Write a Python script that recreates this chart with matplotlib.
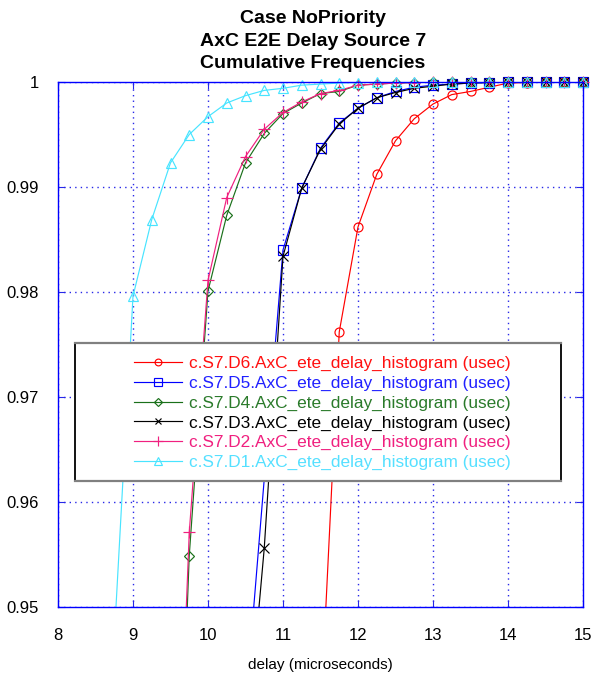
"""Cumulative delay frequencies for source 7, one curve per destination."""

import numpy as np
from matplotlib import pyplot as plt
from matplotlib.lines import Line2D
from matplotlib.patches import Rectangle

plt.rcParams["font.family"] = ["Liberation Sans", "DejaVu Sans"]

# delay bins (microseconds), 0.25 us steps
delay_us = [
    8.75, 9.0, 9.25, 9.5, 9.75, 10.0, 10.25, 10.5, 10.75, 11.0, 11.25, 11.5, 11.75,
    12.0, 12.25, 12.5, 12.75, 13.0, 13.25, 13.5, 13.75, 14.0, 14.25, 14.5, 14.75, 15.0,
]

nan = float("nan")
cdf_d6 = [
    nan, nan, nan, nan, nan, nan, nan, nan, nan, nan, nan, 0.9395, 0.9762,
    0.9862, 0.9912, 0.9944, 0.9965, 0.9979, 0.9988, 0.9991, 0.9995, 0.9999, 0.99995, 1.0, 1.0, 1.0,
]
cdf_d5 = [
    nan, nan, nan, nan, nan, nan, nan, 0.9404, nan, 0.9840, 0.9899, 0.9937, 0.9961,
    0.9975, 0.9985, 0.9991, 0.9995, 0.9997, 0.9998, 0.9999, 0.99995, 1.0, 1.0, 1.0, 1.0, 1.0,
]
cdf_d4 = [
    nan, nan, nan, 0.908, 0.9549, 0.9801, 0.9873, 0.9923, 0.9951, 0.9970, 0.9980, 0.9989, 0.9991,
    0.9997, 0.9998, 0.9999, 0.99995, 1.0, 1.0, 1.0, 1.0, 1.0, 1.0, 1.0, 1.0, 1.0,
]
cdf_d3 = [
    nan, nan, nan, nan, nan, nan, nan, 0.9356, 0.9556, 0.9834, 0.9899, 0.9936, 0.9960,
    0.9975, 0.9985, 0.9990, 0.9994, 0.9996, 0.9998, 0.9999, 0.99995, 1.0, 1.0, 1.0, 1.0, 1.0,
]
cdf_d2 = [
    nan, nan, nan, 0.912, 0.9571, 0.9811, 0.9890, 0.9929, 0.9955, 0.9971, 0.9981, 0.9989, 0.9992,
    0.9997, 0.9998, 0.9999, 0.99995, 1.0, 1.0, 1.0, 1.0, 1.0, 1.0, 1.0, 1.0, 1.0,
]
cdf_d1 = [
    0.947, 0.9796, 0.9869, 0.9923, 0.9950, 0.9967, 0.9980, 0.9987, 0.9992, 0.9994, 0.9997, 0.9998, 0.9999,
    0.99995, 1.0, 1.0, 1.0, 1.0, 1.0, 1.0, 1.0, 1.0, 1.0, 1.0, 1.0, 1.0,
]

series_labels = [f"c.S7.D{n}.AxC_ete_delay_histogram (usec)" for n in (6, 5, 4, 3, 2, 1)]
series_values = [cdf_d6, cdf_d5, cdf_d4, cdf_d3, cdf_d2, cdf_d1]
series_colors = ["#ff0000", "#0000ff", "#1a701a", "#000000", "#f0207f", "#48e4ff"]
text_colors = ["#ff1010", "#2020ff", "#2a7a2a", "#000000", "#f0207f", "#55e0ff"]
series_markers = [("o", 6.5), ("s", 7.5), ("D", 5.0), ("x", 6.5), ("+", 9), ("^", 7.5)]

x_ticks = [8, 9, 10, 11, 12, 13, 14, 15]
y_ticks = [0.95, 0.96, 0.97, 0.98, 0.99, 1.0]
y_tick_labels = ["0.95", "0.96", "0.97", "0.98", "0.99", "1"]

grid_blue = "#2828e8"
y_low, y_high = 0.95, 1.0

figure = plt.figure(figsize=(5.94, 6.74), dpi=100)
axis = figure.add_axes([58 / 594, 1 - 607 / 674, 525 / 594, 525 / 674])

x_all = np.array(delay_us)
for values, color, (marker, size) in zip(series_values, series_colors, series_markers):
    y_all = np.array(values)
    keep = np.isfinite(y_all)
    axis.plot(x_all[keep], y_all[keep], color=color, linewidth=0.85)
    # markers inside the range are drawn unclipped, so those on the top edge stay whole
    shown = keep & (y_all >= y_low)
    axis.plot(
        x_all[shown], y_all[shown], linestyle="none", clip_on=False,
        marker=marker, markersize=size, markerfacecolor="none",
        markeredgecolor=color, markeredgewidth=0.85,
    )

axis.set_xlim(8, 15)
axis.set_ylim(y_low, y_high)
axis.set_xticks(x_ticks)
axis.set_yticks(y_ticks)
axis.set_yticklabels(y_tick_labels)
axis.tick_params(
    direction="in", length=5, color=grid_blue, labelsize=12,
    top=True, right=True, pad=14,
)
axis.tick_params(axis="x", pad=15)
axis.grid(True, color=grid_blue, linestyle=(0, (1, 3)), linewidth=1.0)
for spine in axis.spines.values():
    spine.set_color("#0000ff")
    spine.set_linewidth(1.0)
axis.set_xlabel("delay (microseconds)", fontsize=11, labelpad=11)

# legend box: black sides, grey top and bottom
box_left, box_bottom, box_width, box_height = 17 / 525, 126 / 525, 486 / 525, 138 / 525
axis.add_patch(Rectangle(
    (box_left, box_bottom), box_width, box_height, transform=axis.transAxes,
    facecolor="white", edgecolor="black", linewidth=1.3, zorder=5,
))
for y_edge in (box_bottom, box_bottom + box_height):
    axis.add_line(Line2D(
        [box_left, box_left + box_width], [y_edge, y_edge], transform=axis.transAxes,
        color="#808080", linewidth=1.6, zorder=6,
    ))

handles = [
    Line2D([], [], color=color, linewidth=0.85, marker=marker, markersize=size * 0.75,
           markerfacecolor="none", markeredgecolor=color, markeredgewidth=0.85)
    for color, (marker, size) in zip(series_colors, series_markers)
]
legend = axis.legend(
    handles, series_labels, loc="center left", bbox_to_anchor=(76 / 525, 194 / 525),
    frameon=False, fontsize=12.4, handlelength=2.8, handletextpad=0.4,
    labelspacing=0.27, borderpad=0, borderaxespad=0,
)
legend.set_zorder(7)
for text, color in zip(legend.get_texts(), text_colors):
    text.set_color(color)

figure.text(
    313 / 594, 1 - 41 / 674,
    "Case NoPriority\nAxC E2E Delay Source 7\nCumulative Frequencies",
    ha="center", va="center", fontsize=14, fontweight="bold", linespacing=1.45,
)

figure.savefig("out.png", dpi=100)
